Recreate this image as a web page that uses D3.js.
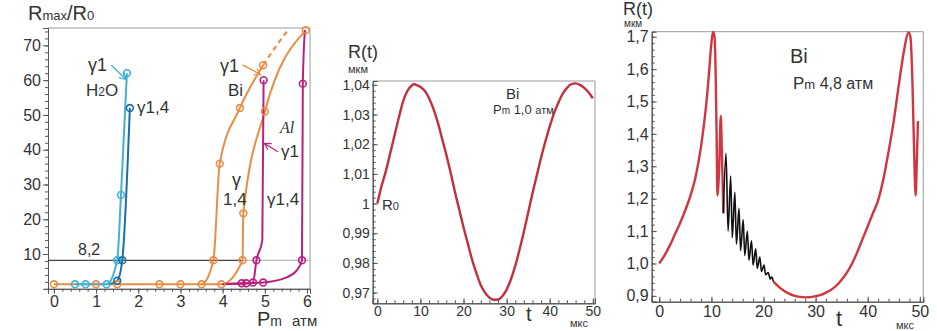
<!DOCTYPE html>
<html>
<head>
<meta charset="utf-8">
<script src="https://cdn.jsdelivr.net/npm/d3@7"></script>
<style>
  body { margin: 0; background: #fff; }
  text { font-family: "Liberation Sans", Arial, sans-serif; fill: #333; }
</style>
</head>
<body>
<div id="chart"></div>
<script>
// ---- panel 1: Rmax/R0 vs Pm, points [Pm, Rmax/R0, circle?]
const h2oG1  = [[0.5,1.3,1],[0.75,1.3,1],[1.25,1.3,1],[1.5,8.2,1],[1.59,27,1],[1.73,62,1]];
const h2oG14 = [[1.3,1.3,0],[1.5,2.3,1],[1.62,8.2,1],[1.8,52,1]];
const biG1   = [[0,1.3,1],[1,1.3,1],[1.5,1.3,1],[2.5,1.3,1],[3,1.3,1],[3.5,1.3,1],[3.78,8.2,1],[3.93,36,1],[4.41,52,1],[4.96,64.3,1]];
const biG1Dash = [[4.96,64.3],[5.25,69.5],[5.55,74.5]];
const biG14  = [[3.5,1.3,0],[3.97,1.3,1],[4.47,8.2,1],[4.49,21.7,1],[5.0,51,1],[5.97,74.4,1]];
const alG1   = [[4.0,1.3,0],[4.45,1.6,1],[4.56,1.6,1],[4.72,1.8,1],[4.8,8.2,1],[4.94,14,0],[4.97,60,1]];
const alG14  = [[4.0,1.3,0],[4.96,1.8,1],[5.5,3.2,0],[5.75,5.2,0],[5.88,8.2,1],[5.9,59,1],[5.95,74.4,0]];
const level82 = 8.2;
const pTicks = [0,1,2,3,4,5,6];
const rTicks = [10,20,30,40,50,60,70];

// ---- panel 2: R(t), Bi, Pm 1,0 atm  [t, R]
const rt1 = [[0,1.000],[1,1.006],[2,1.011],[3,1.017],[4,1.023],[5,1.029],[6,1.0345],[7,1.038],[8,1.0398],[8.5,1.0402],
  [9,1.0400],[10,1.0393],[11,1.038],[12,1.0355],[13,1.032],[14,1.0275],[15,1.022],[16,1.0165],[17,1.0105],[18,1.004],
  [19,0.998],[20,0.992],[21,0.9865],[22,0.981],[23,0.9765],[24,0.9725],[25,0.970],[26,0.9683],[27,0.9676],[28,0.9677],
  [29,0.9688],[30,0.971],[31,0.9745],[32,0.979],[33,0.9845],[34,0.9905],[35,0.997],[36,1.0035],[37,1.0095],[38,1.0155],
  [39,1.021],[40,1.026],[41,1.0305],[42,1.034],[43,1.037],[44,1.039],[45,1.0402],[46,1.0405],[47,1.0400],[48,1.039],
  [49,1.0375],[50,1.0355]];
const t1Ticks = [0,10,20,30,40,50];
const r1Ticks = [0.97,0.98,0.99,1,1.01,1.02,1.03,1.04];

// ---- panel 3: R(t), Bi, Pm 4,8 atm
const rt2a = [[0,1.0],[1,1.025],[2,1.055],[3,1.09],[4,1.125],[5,1.165],[6,1.21],[7,1.27],[8,1.36],[8.5,1.42],[9,1.49],
  [9.5,1.58],[10,1.68],[10.3,1.715],[10.6,1.70],[10.8,1.60],[11.0,1.40],[11.15,1.21],[11.5,1.30],[11.8,1.455],[12.0,1.35],[12.3,1.155]];
const rt2osc = [[12.3,1.155],[12.8,1.34],[13.2,1.10],[13.7,1.27],[14.0,1.08],[14.5,1.22],[14.8,1.06],[15.3,1.17],[15.6,1.04],
  [16.1,1.135],[16.4,1.025],[16.9,1.10],[17.2,1.01],[17.7,1.07],[18.0,0.995],[18.5,1.045],[18.8,0.985],[19.3,1.02],
  [19.6,0.975],[20.1,0.995],[20.4,0.965],[20.9,0.972],[21.3,0.952],[21.6,0.958],[21.9,0.944]];
const rt2b = [[21.9,0.944],[23,0.927],[24,0.915],[25,0.906],[26,0.900],[27,0.897],[28,0.8955],[29,0.896],[30,0.899],
  [31,0.903],[32,0.910],[33,0.919],[34,0.932],[35,0.950],[36,0.972],[37,1.000],[38,1.035],[39,1.075],[40,1.115],
  [41,1.155],[42,1.195],[43,1.26],[44,1.345],[45,1.44],[46,1.555],[47,1.66],[47.8,1.713],[48.2,1.70],[48.6,1.55],
  [48.9,1.35],[49.2,1.21],[49.45,1.33],[49.65,1.44]];
const t2Ticks = [0,10,20,30,40,50];
const r2Ticks = [0.9,1.0,1.1,1.2,1.3,1.4,1.5,1.6,1.7];

const W = 937, H = 331;
const ru = d3.formatLocale({decimal: ",", thousands: " ", grouping: [3], currency: ["", ""]});

const svg = d3.select("#chart").append("svg")
  .attr("width", W).attr("height", H)
  .attr("viewBox", `0 0 ${W} ${H}`);
svg.append("rect").attr("width", W).attr("height", H).attr("fill", "#fff");

const defs = svg.append("defs");
function arrowMarker(id, color) {
  defs.append("marker").attr("id", id)
    .attr("viewBox", "-8 -5 10 10").attr("refX", 0).attr("refY", 0)
    .attr("markerWidth", 9).attr("markerHeight", 9).attr("markerUnits", "userSpaceOnUse")
    .attr("orient", "auto")
    .append("path").attr("d", "M-7,-4L0,0L-7,4").attr("fill", "none")
    .attr("stroke", color).attr("stroke-width", 1.3);
}

// axes with minor ticks + frame on top / right
function drawAxes(g, x, y, o) {
  const [x0, x1] = x.range(), [y0, y1] = y.range();
  g.append("path").attr("d", `M${x0},${y1}H${x1}V${y0}`)
    .attr("fill", "none").attr("stroke", "#9a9a9a");

  const s = o.inward ? -1 : 1;
  const xb = g.append("g").attr("transform", `translate(0,${y0})`);
  xb.append("g").call(d3.axisBottom(x).tickValues(o.xMinor).tickSize(3 * s).tickFormat(""));
  xb.append("g").call(d3.axisBottom(x).tickValues(o.xTicks).tickSize(5 * s).tickPadding(o.xPad).tickFormat(o.xFmt));
  const yl = g.append("g").attr("transform", `translate(${x0},0)`);
  yl.append("g").call(d3.axisLeft(y).tickValues(o.yMinor).tickSize(3 * s).tickFormat(""));
  yl.append("g").call(d3.axisLeft(y).tickValues(o.yTicks).tickSize(5 * s).tickPadding(o.yPad).tickFormat(o.yFmt));

  g.selectAll(".domain").attr("stroke", "#555");
  g.selectAll(".tick line").attr("stroke", "#555");
  g.selectAll(".tick text").style("font-size", o.font + "px")
    .style("font-family", "'Liberation Sans', Arial, sans-serif").attr("fill", "#333");
}

function rich(g, x, y, parts, anchor) {
  const t = g.append("text").attr("x", x).attr("y", y).attr("text-anchor", anchor || "start");
  parts.forEach(p => {
    const s = t.append("tspan").text(p[0]).style("font-size", p[1] + "px");
    if (p[2]) s.style("font-style", "italic").style("font-family", "'Liberation Serif', serif");
  });
  return t;
}

const steps = (a, b, s) => d3.range(a, b + s / 2, s).map(v => +v.toFixed(4));

// ================= panel 1
{
  const g = svg.append("g");
  const x = d3.scaleLinear().domain([-0.14, 6.07]).range([48, 310]);
  const y = d3.scaleLinear().domain([0, 75]).range([288.8, 28]);
  drawAxes(g, x, y, {
    xTicks: pTicks, xMinor: steps(0, 6, 0.2), xFmt: d3.format("d"), xPad: 2,
    yTicks: rTicks, yMinor: steps(2, 74, 2), yFmt: d3.format("d"), yPad: 2, font: 16
  });

  // 8,2 level
  g.append("line").attr("x1", x(-0.14)).attr("x2", x(4.5)).attr("y1", y(level82)).attr("y2", y(level82))
    .attr("stroke", "#444").attr("stroke-width", 1.3);
  g.append("line").attr("x1", x(4.5)).attr("x2", x(6.07)).attr("y1", y(level82)).attr("y2", y(level82))
    .attr("stroke", "#aaa").attr("stroke-width", 1);

  const line = d3.line().x(d => x(d[0])).y(d => y(d[1])).curve(d3.curveMonotoneX);
  const series = [
    {d: biG1, c: "#e98c45"}, {d: biG14, c: "#e98c45"},
    {d: alG1, c: "#b8217f"}, {d: alG14, c: "#b8217f"},
    {d: h2oG1, c: "#3fb0da"}, {d: h2oG14, c: "#1e6ea6"}
  ];
  series.forEach(s => {
    g.append("path").attr("d", line(s.d)).attr("fill", "none")
      .attr("stroke", s.c).attr("stroke-width", 2);
  });
  g.append("path").attr("d", line(biG1Dash)).attr("fill", "none")
    .attr("stroke", "#e98c45").attr("stroke-width", 2.2).attr("stroke-dasharray", "5,4");
  series.forEach(s => {
    g.selectAll(null).data(s.d.filter(d => d[2])).join("circle")
      .attr("cx", d => x(d[0])).attr("cy", d => y(d[1])).attr("r", 3.4)
      .attr("fill", "none").attr("stroke", s.c).attr("stroke-width", 1.6);
  });

  // arrows
  arrowMarker("aBlue", "#3fb0da");
  arrowMarker("aOrange", "#e98c45");
  arrowMarker("aMag", "#b8217f");
  const arrow = (p0, p1, id, c) => g.append("line")
    .attr("x1", x(p0[0])).attr("y1", y(p0[1])).attr("x2", x(p1[0])).attr("y2", y(p1[1]))
    .attr("stroke", c).attr("stroke-width", 1.3).attr("marker-end", `url(#${id})`);
  arrow([1.36, 64.3], [1.71, 60.2], "aBlue", "#3fb0da");
  arrow([4.47, 64.4], [4.9, 61.6], "aOrange", "#e98c45");
  arrow([5.31, 39.4], [4.99, 41.8], "aMag", "#b8217f");

  // labels
  rich(g, 88, 71, [["γ1", 18]]);
  rich(g, 86, 96, [["H", 17], ["2", 12], ["O", 17]]);
  rich(g, 137, 113, [["γ1,4", 17]]);
  rich(g, 220, 72, [["γ1", 18]]);
  rich(g, 228, 96, [["Bi", 17]]);
  rich(g, 280, 133, [["Al", 16, 1]]);
  rich(g, 281, 157, [["γ1", 17]]);
  rich(g, 232, 186, [["γ", 18]]);
  rich(g, 223, 205, [["1,4", 17]]);
  rich(g, 267, 205, [["γ1,4", 17]]);
  rich(g, 78, 255, [["8,2", 16]]);
  rich(g, 28, 20, [["R", 20], ["max", 13], ["/R", 20], ["0", 13]]);
  rich(g, 257, 326, [["P", 20], ["m", 14]]);
  rich(g, 292, 326, [["атм", 15]]);
}

// ================= panel 2
{
  const g = svg.append("g");
  const x = d3.scaleLinear().domain([-1.07, 50.5]).range([372.7, 595]);
  const y = d3.scaleLinear().domain([0.9664, 1.0413]).range([303.3, 81]);
  drawAxes(g, x, y, {
    inward: true,
    xTicks: t1Ticks, xMinor: steps(0, 50, 2), xFmt: d3.format("d"), xPad: 3,
    yTicks: r1Ticks, yMinor: steps(0.968, 1.04, 0.002), yFmt: ru.format(".2~f"), yPad: 3, font: 14
  });
  const line = d3.line().x(d => x(d[0])).y(d => y(d[1])).curve(d3.curveMonotoneX);
  g.append("path").attr("d", line(rt1)).attr("fill", "none")
    .attr("stroke", "#c22f3d").attr("stroke-width", 2.4);

  rich(g, 348, 58, [["R(t)", 18]]);
  rich(g, 348, 73, [["мкм", 11]]);
  rich(g, 506, 99, [["Bi", 15]]);
  rich(g, 493, 114, [["P", 13], ["m", 10], [" 1,0 ", 13], ["атм", 11]]);
  rich(g, 382, 210, [["R", 15], ["0", 11]]);
  rich(g, 526, 321, [["t", 20]]);
  rich(g, 570, 327, [["мкс", 11]]);
}

// ================= panel 3
{
  const g = svg.append("g");
  const x = d3.scaleLinear().domain([-1.46, 50.67]).range([651.7, 923.3]);
  const y = d3.scaleLinear().domain([0.882, 1.7154]).range([301.7, 31.7]);
  drawAxes(g, x, y, {
    inward: true,
    xTicks: t2Ticks, xMinor: steps(0, 50, 2), xFmt: d3.format("d"), xPad: 4,
    yTicks: r2Ticks, yMinor: steps(0.9, 1.7, 0.02), yFmt: ru.format(".1f"), yPad: 3, font: 16
  });
  const line = d3.line().x(d => x(d[0])).y(d => y(d[1])).curve(d3.curveMonotoneX);
  g.append("path").attr("d", line(rt2a)).attr("fill", "none")
    .attr("stroke", "#d0363f").attr("stroke-width", 2.4);
  g.append("path").attr("d", line(rt2b)).attr("fill", "none")
    .attr("stroke", "#d0363f").attr("stroke-width", 2.4);
  g.append("path").attr("d", line(rt2osc)).attr("fill", "none")
    .attr("stroke", "#111").attr("stroke-width", 1.6);

  rich(g, 623, 15, [["R(t)", 18]]);
  rich(g, 624, 27, [["мкм", 10]]);
  rich(g, 790, 63, [["Bi", 20]]);
  rich(g, 793, 89, [["P", 17], ["m", 13], [" 4,8 атм", 16]]);
  rich(g, 836, 326, [["t", 22]]);
  rich(g, 896, 329, [["мкс", 11]]);
}
</script>
</body>
</html>
